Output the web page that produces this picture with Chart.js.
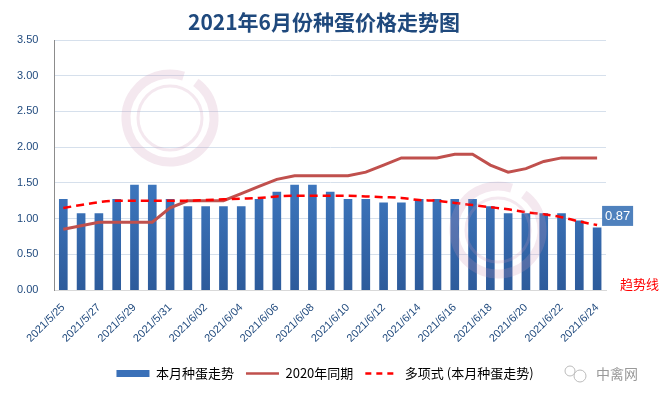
<!DOCTYPE html>
<html>
<head>
<meta charset="utf-8">
<script src="https://cdn.jsdelivr.net/npm/chart.js@4/dist/chart.umd.min.js"></script>
<style>
  body { margin: 0; background: #fff; }
</style>
</head>
<body>
<canvas id="chart" width="663" height="394"></canvas>
<script>
const dates = ['2021/5/25', '2021/5/26', '2021/5/27', '2021/5/28', '2021/5/29', '2021/5/30', '2021/5/31',
    '2021/6/01', '2021/6/02', '2021/6/03', '2021/6/04', '2021/6/05', '2021/6/06', '2021/6/07', '2021/6/08',
    '2021/6/09', '2021/6/10', '2021/6/11', '2021/6/12', '2021/6/13', '2021/6/14', '2021/6/15', '2021/6/16',
    '2021/6/17', '2021/6/18', '2021/6/19', '2021/6/20', '2021/6/21', '2021/6/22', '2021/6/23', '2021/6/24'];
const thisMonth = [1.27, 1.07, 1.07, 1.27, 1.47, 1.47, 1.27, 1.17, 1.17, 1.17, 1.17, 1.27, 1.37, 1.47, 1.47,
    1.37, 1.27, 1.27, 1.22, 1.22, 1.27, 1.27, 1.27, 1.27, 1.17, 1.07, 1.07, 1.07, 1.07, 0.97, 0.87];
const lastYear = [0.85, 0.90, 0.95, 0.95, 0.95, 0.95, 1.15, 1.25, 1.25, 1.25, 1.35, 1.45, 1.55, 1.60, 1.60,
    1.60, 1.60, 1.65, 1.75, 1.85, 1.85, 1.85, 1.90, 1.90, 1.75, 1.65, 1.70, 1.80, 1.85, 1.85, 1.85];
const trend = [1.15, 1.19, 1.23, 1.25, 1.25, 1.25, 1.25, 1.25, 1.26, 1.27, 1.28, 1.29, 1.31, 1.32, 1.32,
    1.32, 1.32, 1.31, 1.30, 1.29, 1.26, 1.25, 1.22, 1.19, 1.16, 1.13, 1.09, 1.06, 1.02, 0.96, 0.91];
const yTicks = [0, 0.5, 1, 1.5, 2, 2.5, 3, 3.5];

const blue = '#1F497D';
const cjk = '"Noto Sans CJK SC", "Liberation Sans", sans-serif';

// bar fill fades from lighter blue at the top to darker at the base
function barFill(context) {
    const area = context.chart.chartArea;
    if (!area) return '#3A72BA';
    const g = context.chart.ctx.createLinearGradient(0, area.top + 90, 0, area.bottom);
    g.addColorStop(0, '#4584CF');
    g.addColorStop(1, '#2D5B9B');
    return g;
}

const extras = {
    id: 'extras',
    afterDatasetsDraw(chart) {
        const { ctx } = chart;
        // faint watermark rings
        ctx.save();
        ctx.strokeStyle = 'rgba(205, 150, 180, 0.22)';
        [[170, 118], [498, 230]].forEach(([cx, cy]) => {
            ctx.lineWidth = 9;
            ctx.beginPath();
            ctx.arc(cx, cy, 44, -0.3 * Math.PI, 1.6 * Math.PI);
            ctx.stroke();
            ctx.lineWidth = 3;
            ctx.beginPath();
            ctx.arc(cx, cy, 32, 0, 2 * Math.PI);
            ctx.stroke();
        });
        ctx.restore();

        // value box for the last bar
        const meta = chart.getDatasetMeta(0);
        const last = meta.data[meta.data.length - 1];
        const left = last.x + 5, top = last.y - 22;
        ctx.save();
        ctx.fillStyle = '#4F81BD';
        ctx.fillRect(left, top, 31, 20);
        ctx.fillStyle = '#fff';
        ctx.font = '13px "Liberation Sans", sans-serif';
        ctx.textAlign = 'center';
        ctx.textBaseline = 'middle';
        ctx.fillText(thisMonth[thisMonth.length - 1].toFixed(2), left + 15.5, top + 10.5);

        // title, centred over the whole picture
        ctx.fillStyle = blue;
        ctx.font = 'bold 21px ' + cjk;
        ctx.fillText('2021年6月份种蛋价格走势图', 324, 22);

        ctx.fillStyle = '#FF0000';
        ctx.font = '13px ' + cjk;
        ctx.textAlign = 'left';
        ctx.fillText('趋势线', 620, 284);

        ctx.fillStyle = '#999';
        ctx.font = '14px ' + cjk;
        ctx.fillText('中禽网', 596, 374);
        ctx.strokeStyle = '#bbb';
        ctx.lineWidth = 1;
        ctx.beginPath();
        ctx.arc(570, 371, 5, 0, 2 * Math.PI);
        ctx.stroke();
        ctx.beginPath();
        ctx.arc(580, 376, 6, 0, 2 * Math.PI);
        ctx.stroke();
        ctx.restore();
    }
};

new Chart(document.getElementById('chart'), {
    type: 'bar',
    data: {
        labels: dates,
        datasets: [{
            label: '本月种蛋走势',
            data: thisMonth,
            backgroundColor: barFill,
            barThickness: 8,
            order: 3
        }, {
            type: 'line',
            label: '2020年同期',
            data: lastYear,
            borderColor: '#C0504D',
            backgroundColor: '#C0504D',
            borderWidth: 3,
            pointRadius: 0,
            tension: 0,
            order: 2
        }, {
            type: 'line',
            label: '多项式 (本月种蛋走势)',
            data: trend,
            borderColor: '#FF0000',
            backgroundColor: '#FF0000',
            borderWidth: 2.5,
            borderDash: [8, 5],
            pointRadius: 0,
            cubicInterpolationMode: 'monotone',
            order: 1
        }]
    },
    options: {
        responsive: false,
        animation: false,
        layout: { padding: { left: 1, right: 14, top: 40, bottom: 4 } },
        scales: {
            x: {
                grid: { display: false },
                border: { color: '#D9D9D9' },
                afterFit: axis => { axis.height += 7; },
                ticks: {
                    autoSkip: false,
                    maxRotation: 45,
                    minRotation: 45,
                    color: blue,
                    font: { size: 11, family: '"Liberation Sans", sans-serif' },
                    callback: function (value, index) {
                        return index % 2 === 0 ? this.getLabelForValue(value) : '';
                    }
                }
            },
            y: {
                min: 0,
                max: 3.5,
                afterBuildTicks: axis => { axis.ticks = yTicks.map(v => ({ value: v })); },
                grid: { color: '#D6E0EC', drawTicks: false },
                border: { color: '#8C8C8C' },
                ticks: {
                    padding: 16,
                    color: blue,
                    font: { size: 11, family: '"Liberation Sans", sans-serif' },
                    callback: value => value.toFixed(2)
                }
            },
            // empty right-hand strip that holds the value box and the trend note
            side: {
                position: 'right',
                min: 0,
                max: 3.5,
                grid: { drawOnChartArea: false, drawTicks: false },
                border: { display: false },
                ticks: { display: false },
                afterFit: axis => { axis.width = 43; }
            }
        },
        plugins: {
            title: { display: false },
            legend: {
                position: 'bottom',
                labels: {
                    usePointStyle: true,
                    pointStyleWidth: 33,
                    boxWidth: 33,
                    boxHeight: 7,
                    color: '#000',
                    padding: 12,
                    font: { size: 13, family: cjk },
                    sort: (a, b) => a.datasetIndex - b.datasetIndex,
                    generateLabels: chart => Chart.defaults.plugins.legend.labels.generateLabels(chart).map(item => {
                        if (item.datasetIndex === 0) {
                            item.pointStyle = 'rect';
                            item.fillStyle = '#3A70B8';
                            item.strokeStyle = '#3A70B8';
                            item.lineWidth = 0;
                        } else {
                            item.pointStyle = 'line';
                            item.lineWidth = 2.5;
                            item.lineDash = item.datasetIndex === 2 ? [6, 5] : [];
                        }
                        return item;
                    })
                }
            },
            tooltip: { enabled: false }
        }
    },
    plugins: [extras]
});
</script>
</body>
</html>
